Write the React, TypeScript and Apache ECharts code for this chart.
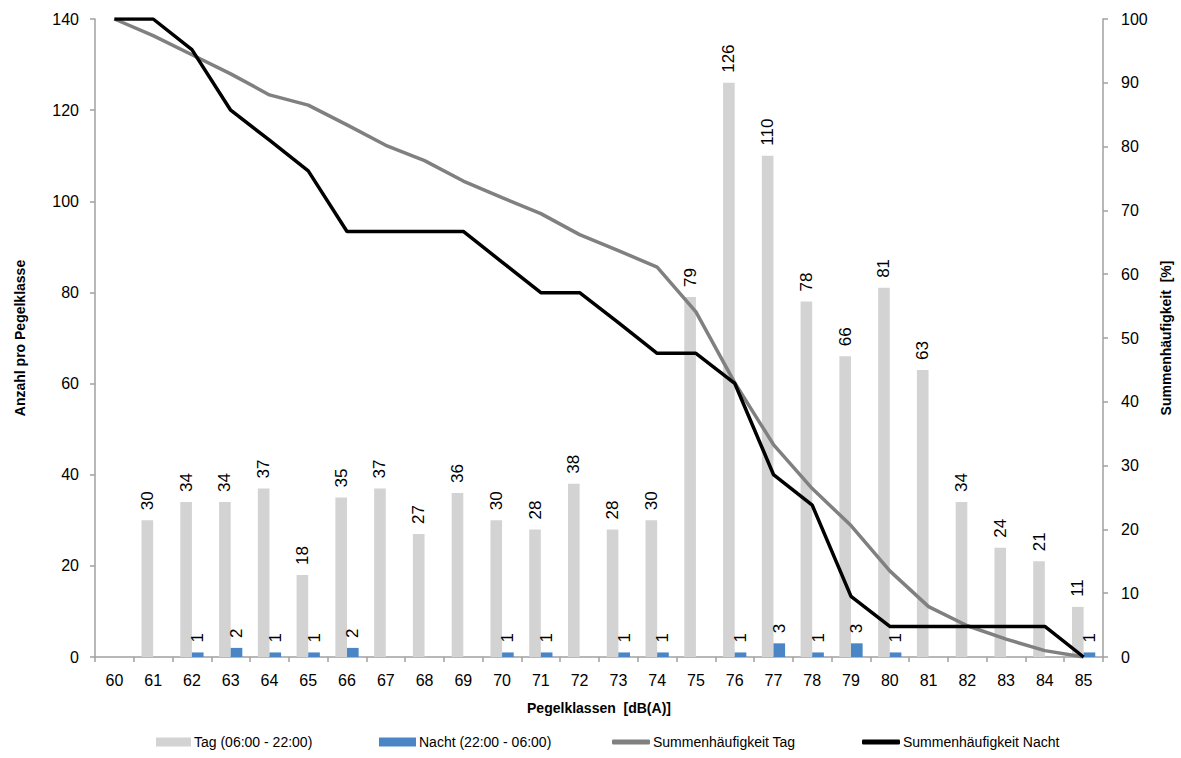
import React, { useEffect, useRef } from "react";
import * as echarts from "echarts";

const categories = ["60","61","62","63","64","65","66","67","68","69","70","71","72","73","74","75","76","77","78","79","80","81","82","83","84","85"];
const tagCounts = [null,30,34,34,37,18,35,37,27,36,30,28,38,28,30,79,126,110,78,66,81,63,34,24,21,11];
const nachtCounts = [null,null,1,2,1,1,2,null,null,null,1,1,null,1,1,null,1,3,1,3,1,null,null,null,null,1];
const summeTag = [100,97.4,94.4,91.4,88.1,86.5,83.4,80.2,77.8,74.6,72.0,69.5,66.2,63.7,61.1,54.1,43.0,33.3,26.4,20.6,13.5,7.9,4.9,2.8,1.0,0];
const summeNacht = [100,100,95.2,85.7,81.0,76.2,66.7,66.7,66.7,66.7,61.9,57.1,57.1,52.4,47.6,47.6,42.9,28.6,23.8,9.5,4.8,4.8,4.8,4.8,4.8,0];
const leftTicks = { min: 0, max: 140, interval: 20 };
const rightTicks = { min: 0, max: 100, interval: 10 };

const FONT = '"Liberation Sans", Arial, sans-serif';
const AXIS_COLOR = "#a0a0a0";

export default function App() {
  const ref = useRef<HTMLDivElement>(null);
  useEffect(() => {
    if (!ref.current) return;
    const chart = echarts.init(ref.current, null, { renderer: "svg" });
    const barLabel = {
      show: true,
      position: "top",
      distance: 10,
      rotate: 90,
      align: "left",
      verticalAlign: "middle",
      fontSize: 17,
      color: "#000",
      fontFamily: FONT,
    };
    const legendBase = {
      top: 730,
      itemGap: 0,
      textStyle: { fontSize: 14, color: "#000", fontFamily: FONT, padding: [0, 0, 0, -2] },
      selectedMode: false,
    };
    chart.setOption({
      animation: false,
      textStyle: { fontFamily: FONT },
      grid: { left: 95, right: 64, top: 19, bottom: 101, containLabel: false },
      legend: [
        { ...legendBase, left: 151, itemWidth: 35, itemHeight: 9, data: [{ name: "Tag (06:00 - 22:00)", icon: "rect" }] },
        { ...legendBase, left: 374, itemWidth: 37, itemHeight: 9, data: [{ name: "Nacht (22:00 - 06:00)", icon: "rect" }] },
        { ...legendBase, left: 607, itemWidth: 38, itemHeight: 5, data: [{ name: "Summenhäufigkeit Tag", icon: "roundRect" }] },
        { ...legendBase, left: 857, itemWidth: 38, itemHeight: 5, data: [{ name: "Summenhäufigkeit Nacht", icon: "roundRect" }] },
      ],
      xAxis: {
        type: "category",
        data: categories,
        boundaryGap: true,
        name: "Pegelklassen  [dB(A)]",
        nameLocation: "middle",
        nameGap: 44,
        nameTextStyle: { fontSize: 14, fontWeight: "bold", color: "#000", fontFamily: FONT },
        axisLine: { lineStyle: { color: AXIS_COLOR, width: 1.5 } },
        axisTick: { show: true, length: 5, lineStyle: { color: AXIS_COLOR, width: 1.5 } },
        axisLabel: { interval: 0, fontSize: 16, color: "#000", margin: 15, fontFamily: FONT },
        splitLine: { show: false },
      },
      yAxis: [
        {
          type: "value",
          ...leftTicks,
          name: "Anzahl pro Pegelklasse",
          nameLocation: "middle",
          nameRotate: 90,
          nameGap: 68,
          nameTextStyle: { fontSize: 14, fontWeight: "bold", color: "#000", fontFamily: FONT },
          axisLine: { show: true, lineStyle: { color: AXIS_COLOR, width: 1.5 } },
          axisTick: { show: true, length: 5, lineStyle: { color: AXIS_COLOR, width: 1.5 } },
          axisLabel: { fontSize: 16, color: "#000", margin: 16, fontFamily: FONT },
          splitLine: { show: false },
        },
        {
          type: "value",
          ...rightTicks,
          position: "right",
          name: "Summenhäufigkeit  [%]",
          nameLocation: "middle",
          nameRotate: 90,
          nameGap: 56,
          nameTextStyle: { fontSize: 14, fontWeight: "bold", color: "#000", fontFamily: FONT },
          axisLine: { show: true, lineStyle: { color: AXIS_COLOR, width: 1.5 } },
          axisTick: { show: true, length: 5, lineStyle: { color: AXIS_COLOR, width: 1.5 } },
          axisLabel: { fontSize: 16, color: "#000", margin: 18, fontFamily: FONT },
          splitLine: { show: false },
        },
      ],
      series: [
        {
          name: "Tag (06:00 - 22:00)",
          type: "bar",
          data: tagCounts,
          yAxisIndex: 0,
          barGap: "0%",
          barCategoryGap: "40%",
          itemStyle: { color: "#d3d3d3" },
          label: barLabel,
          z: 2,
        },
        {
          name: "Nacht (22:00 - 06:00)",
          type: "bar",
          data: nachtCounts,
          yAxisIndex: 0,
          barGap: "0%",
          barCategoryGap: "40%",
          itemStyle: { color: "#4a86c5" },
          label: barLabel,
          z: 2,
        },
        {
          name: "Summenhäufigkeit Tag",
          type: "line",
          data: summeTag,
          yAxisIndex: 1,
          showSymbol: false,
          symbol: "none",
          lineStyle: { color: "#808080", width: 3.5 },
          itemStyle: { color: "#808080" },
          z: 3,
        },
        {
          name: "Summenhäufigkeit Nacht",
          type: "line",
          data: summeNacht,
          yAxisIndex: 1,
          showSymbol: false,
          symbol: "none",
          lineStyle: { color: "#000000", width: 3.5 },
          itemStyle: { color: "#000000" },
          z: 4,
        },
      ],
    });
    return () => chart.dispose();
  }, []);
  return (
    <div
      ref={ref}
      style={{ position: "fixed", left: 0, top: 0, width: 1181, height: 758, background: "#fff" }}
    />
  );
}
